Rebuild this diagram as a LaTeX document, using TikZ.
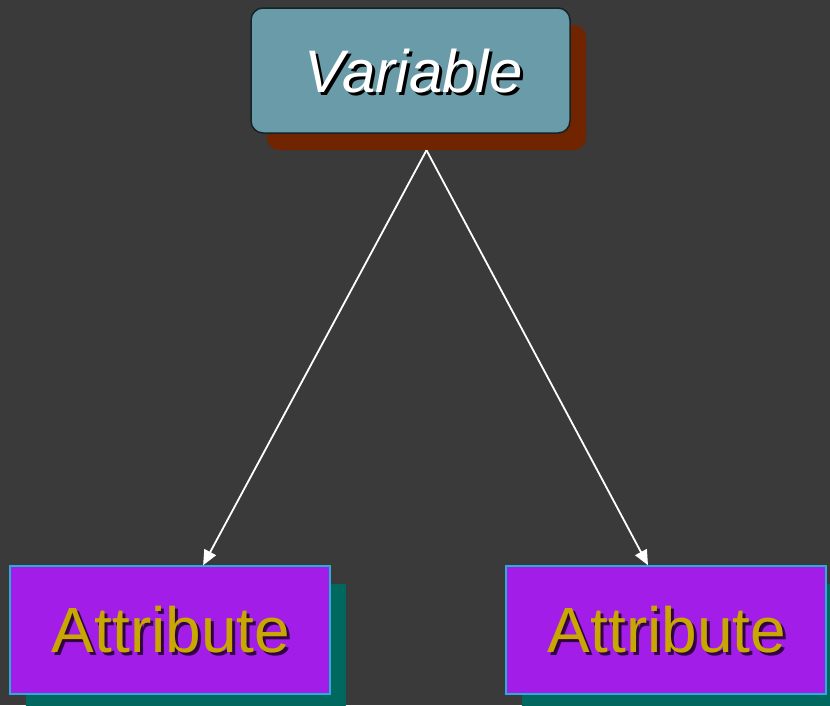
\documentclass[tikz,border=0pt]{standalone}
\usepackage{fontspec}
\setmainfont{Liberation Sans}
\usetikzlibrary{calc,arrows.meta}
\definecolor{bg}{RGB}{58,58,58}
\definecolor{varfill}{RGB}{106,155,168}
\definecolor{varedge}{RGB}{20,35,40}
\definecolor{varshadow}{RGB}{112,36,0}
\definecolor{attfill}{RGB}{162,30,232}
\definecolor{attedge}{RGB}{40,175,215}
\definecolor{attshadow}{RGB}{0,104,94}
\definecolor{atttext}{RGB}{200,168,0}
\definecolor{atttextshadow}{RGB}{50,0,70}
\tikzset{
  varbox/.style={draw=varedge, line width=1.5pt, fill=varfill, rounded corners=12pt,
    minimum width=319pt, minimum height=125pt, inner sep=0pt},
  varshadowbox/.style={fill=varshadow, rounded corners=12pt,
    minimum width=319pt, minimum height=125pt, inner sep=0pt},
  attbox/.style={draw=attedge, line width=1.5pt, fill=attfill,
    minimum width=320pt, minimum height=128pt, inner sep=0pt},
  attshadowbox/.style={fill=attshadow, minimum width=320pt, minimum height=128pt, inner sep=0pt},
  vartext/.style={font=\fontsize{60}{70}\selectfont\itshape, text=white, inner sep=0pt},
  vartextshadow/.style={font=\fontsize{60}{70}\selectfont\itshape, text=black, inner sep=0pt},
  atttext/.style={font=\fontsize{64}{74}\selectfont, text=atttext, inner sep=0pt},
  atttextshadow/.style={font=\fontsize{64}{74}\selectfont, text=atttextshadow, inner sep=0pt},
  link/.style={draw=white, line width=1.8pt, -{Triangle[length=15pt,width=13pt]}}
}
\begin{document}
\begin{tikzpicture}[x=1pt,y=-1pt]
\useasboundingbox[fill=bg] (0,0) rectangle (830,705);
% Variable
\node[varshadowbox] (vs) at (426.5,87.5) {};
\node[varbox] (v) at (410.5,70.5) {};
\node[vartextshadow] (vts) at (416.5,74) {Variable};
\node[vartext] (vt) at (413.5,71) {Variable};
% Attribute left
\node[attshadowbox] (a1s) at (186,648) {};
\node[attbox] (a1) at (170,630) {};
\node[atttextshadow] (a1ts) at (174,633) {Attribute};
\node[atttext] (a1t) at (171,630) {Attribute};
% Attribute right
\node[attshadowbox] (a2s) at (682,648) {};
\node[attbox] (a2) at (666,630) {};
\node[atttextshadow] (a2ts) at (670,633) {Attribute};
\node[atttext] (a2t) at (667,630) {Attribute};
% connectors
\draw[link] (vs.south) -- ($(a1.north west)!0.603!(a1.north east)$);
\draw[link] (vs.south) -- ($(a2.north west)!0.444!(a2.north east)$);
\end{tikzpicture}
\end{document}
